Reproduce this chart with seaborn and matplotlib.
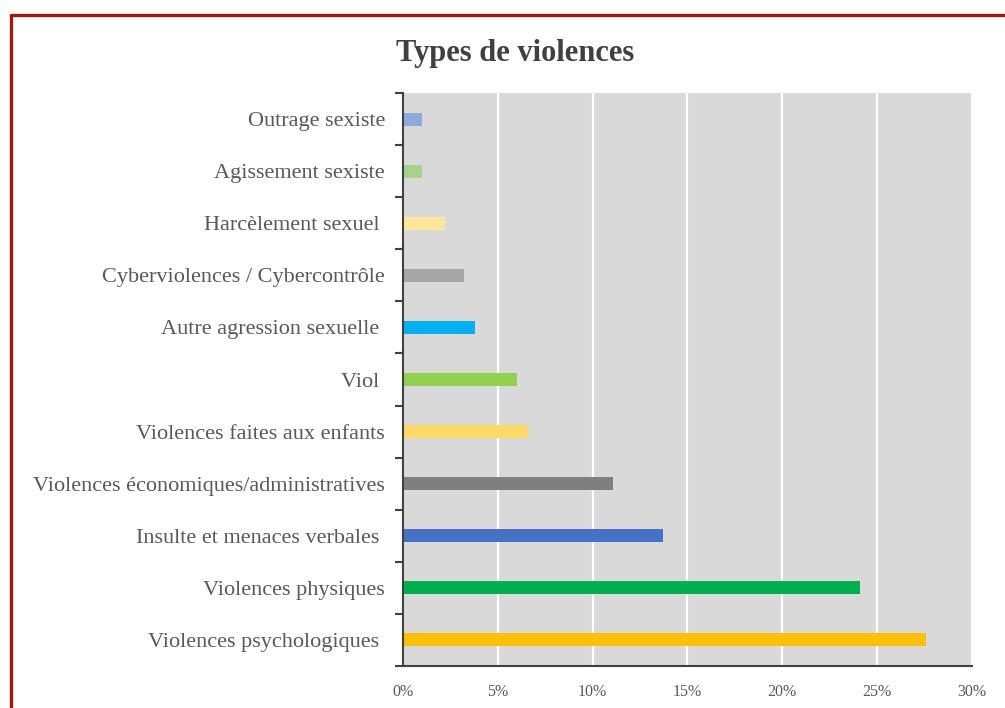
import numpy as np
import pandas as pd
import matplotlib
matplotlib.use("Agg")
import matplotlib.pyplot as plt
from matplotlib.lines import Line2D
from matplotlib.ticker import FixedLocator, FuncFormatter
import seaborn as sns

# data, top to bottom as in the chart
categories = [
    "Outrage sexiste",
    "Agissement sexiste",
    "Harcèlement sexuel ",
    "Cyberviolences / Cybercontrôle",
    "Autre agression sexuelle ",
    "Viol ",
    "Violences faites aux enfants",
    "Violences économiques/administratives",
    "Insulte et menaces verbales ",
    "Violences physiques",
    "Violences psychologiques ",
]
values = [1.0, 1.0, 2.2, 3.2, 3.8, 6.0, 6.6, 11.1, 13.7, 24.1, 27.6]
colors = [
    "#8FAADC", "#A9D18E", "#FFE699", "#A5A5A5", "#00B0F0", "#92D050",
    "#FFD966", "#7F7F7F", "#4472C4", "#00B050", "#FFC000",
]
x_ticks = [0, 5, 10, 15, 20, 25, 30]

df = pd.DataFrame({"type": categories, "pct": values})

sns.set_theme(style="white")
plt.rcParams["font.family"] = ["Liberation Serif", "DejaVu Serif"]
text_grey = "#595959"

fig = plt.figure(figsize=(10.05, 7.08), dpi=100)
ax = fig.add_axes([0.401, 0.0593, 0.566, 0.8093])

sns.barplot(data=df, x="pct", y="type", hue="type", palette=colors,
            order=categories, hue_order=categories, width=0.25,
            legend=False, ax=ax, saturation=1, linewidth=0)

ax.set_facecolor("#D9D9D9")
ax.set_xlim(0, 30)
ax.set_ylim(len(categories) - 0.5, -0.5)
ax.xaxis.set_major_locator(FixedLocator(x_ticks))
ax.xaxis.set_major_formatter(FuncFormatter(lambda v, p: f"{v:.0f}%"))
ax.grid(axis="x", color="white", linewidth=1.6)
ax.set_axisbelow(True)
ax.set_xlabel("")
ax.set_ylabel("")

# ticks between categories, like the original
ax.yaxis.set_minor_locator(FixedLocator(np.arange(-0.5, len(categories), 1.0)))
ax.tick_params(axis="y", which="major", length=0, pad=13,
               labelsize=16, labelcolor=text_grey)
ax.tick_params(axis="y", which="minor", left=True, length=6, width=1.5,
               color="#404040")
ax.tick_params(axis="x", length=0, pad=13, labelsize=11.5, labelcolor=text_grey)

for side in ["top", "right"]:
    ax.spines[side].set_visible(False)
for side in ["left", "bottom"]:
    ax.spines[side].set_color("#404040")
    ax.spines[side].set_linewidth(1.5)

fig.text(0.513, 0.925, "Types de violences", ha="center", va="center",
         fontsize=22, fontweight="bold", color="#404040")

# dark red frame
frame = "#9B1B0B"
fig.add_artist(Line2D([0.011, 0.011], [0, 0.979], color=frame, linewidth=2.4,
                      transform=fig.transFigure))
fig.add_artist(Line2D([0.011, 1.0], [0.979, 0.979], color=frame, linewidth=2.4,
                      transform=fig.transFigure))

fig.savefig("out.png", dpi=100)
